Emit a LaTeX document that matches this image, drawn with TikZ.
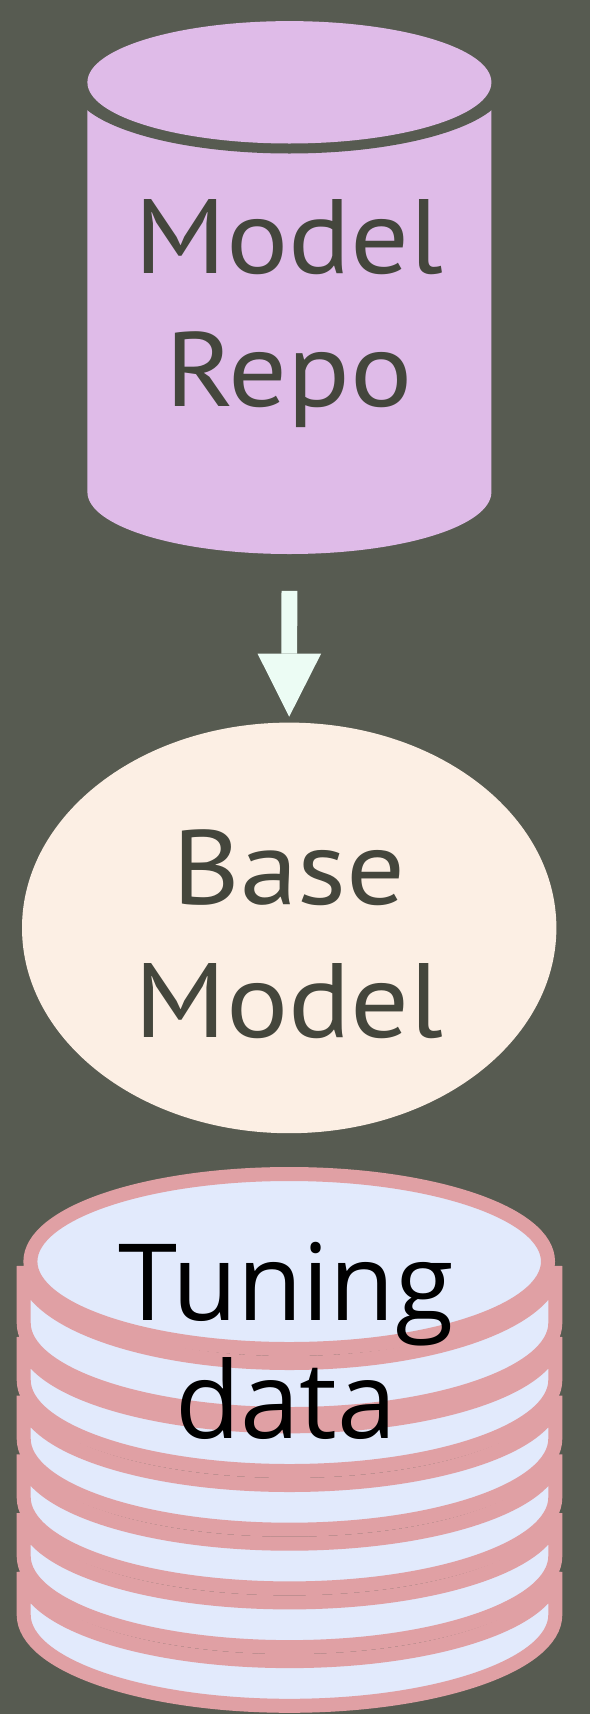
\documentclass[tikz,border=0pt]{standalone}
\usepackage{fontspec}
\setmainfont{PT Sans}
\newfontfamily\labfont[FakeStretch=1.1]{PT Sans}
\newfontfamily\tunefont{Open Sans}
\usetikzlibrary{shapes.geometric,arrows.meta}
\definecolor{bgc}{RGB}{87,91,81}
\definecolor{repofill}{RGB}{223,187,232}
\definecolor{basefill}{RGB}{252,239,228}
\definecolor{arrowc}{RGB}{236,252,244}
\definecolor{pinkc}{RGB}{224,160,164}
\definecolor{bluec}{RGB}{226,234,252}
\definecolor{textc}{RGB}{68,70,60}
\tikzset{
  labeltext/.style={text=textc, align=center, inner sep=0pt, font=\labfont\fontsize{105.7}{133.5}\selectfont},
  tunetext/.style={text=black, align=center, inner sep=0pt, font=\tunefont\fontsize{106.6}{118}\selectfont},
  disk/.style={fill=bluec, draw=pinkc, line width=14pt},
  flowarrow/.style={draw=arrowc, line width=15.8pt, -{Triangle[width=63.6pt,length=63.1pt,line width=0pt]}, shorten >=5.7pt}
}
\newcommand\stackdisk[4]{%
  \filldraw[disk] (23.7,-#3) arc[start angle=180,end angle=360,x radius=265.8pt,y radius=#4pt]
    -- (555.3,-#1) arc[start angle=0,end angle=-180,x radius=265.8pt,y radius=#2pt] -- cycle;}
\begin{document}
\begin{tikzpicture}[x=1pt,y=1pt]
\fill[bgc] (0,0) rectangle (590,-1714);
\useasboundingbox (0,0) rectangle (590,-1714);
% model repo cylinder
\fill[repofill] (87.4,-82.3) -- (87.4,-492) arc[start angle=180,end angle=360,x radius=202pt,y radius=62pt] -- (491.4,-82.3) -- cycle;
\fill[bgc] (289.4,-85.3) ellipse[x radius=217pt,y radius=68.2pt];
\fill[repofill] (289.4,-82.3) ellipse[x radius=202pt,y radius=61.2pt];
\node[minimum width=404pt, minimum height=533pt, inner sep=0pt] (repo) at (289.4,-287.5) {};
\node[labeltext, anchor=base] (repotext) at (289,-406.9) {Model\\Repo};
% base model
\node[ellipse, fill=basefill, minimum width=534.4pt, minimum height=410.6pt, inner sep=0pt] (base) at (289.2,-927.9) {};
\node[labeltext, anchor=base] (basetext) at (289,-1037.6) {Base\\Model};
% arrow
\draw[flowarrow] ([yshift=-36.6pt]repo.south) -- (base.north);
% tuning data stack
\stackdisk{1571.8}{89.3}{1614.8}{91}
\stackdisk{1513.1}{89.3}{1556.1}{91}
\stackdisk{1454.4}{89.3}{1497.4}{91}
\stackdisk{1395.7}{89.3}{1438.7}{91}
\stackdisk{1337}{89.3}{1380}{91}
\stackdisk{1266}{97}{1323}{91}
\filldraw[disk] (289.2,-1261.5) ellipse[x radius=258.8pt,y radius=87.5pt];
\node[tunetext, anchor=base] (tuning) at (286,-1438) {Tuning\\data};
\end{tikzpicture}
\end{document}
